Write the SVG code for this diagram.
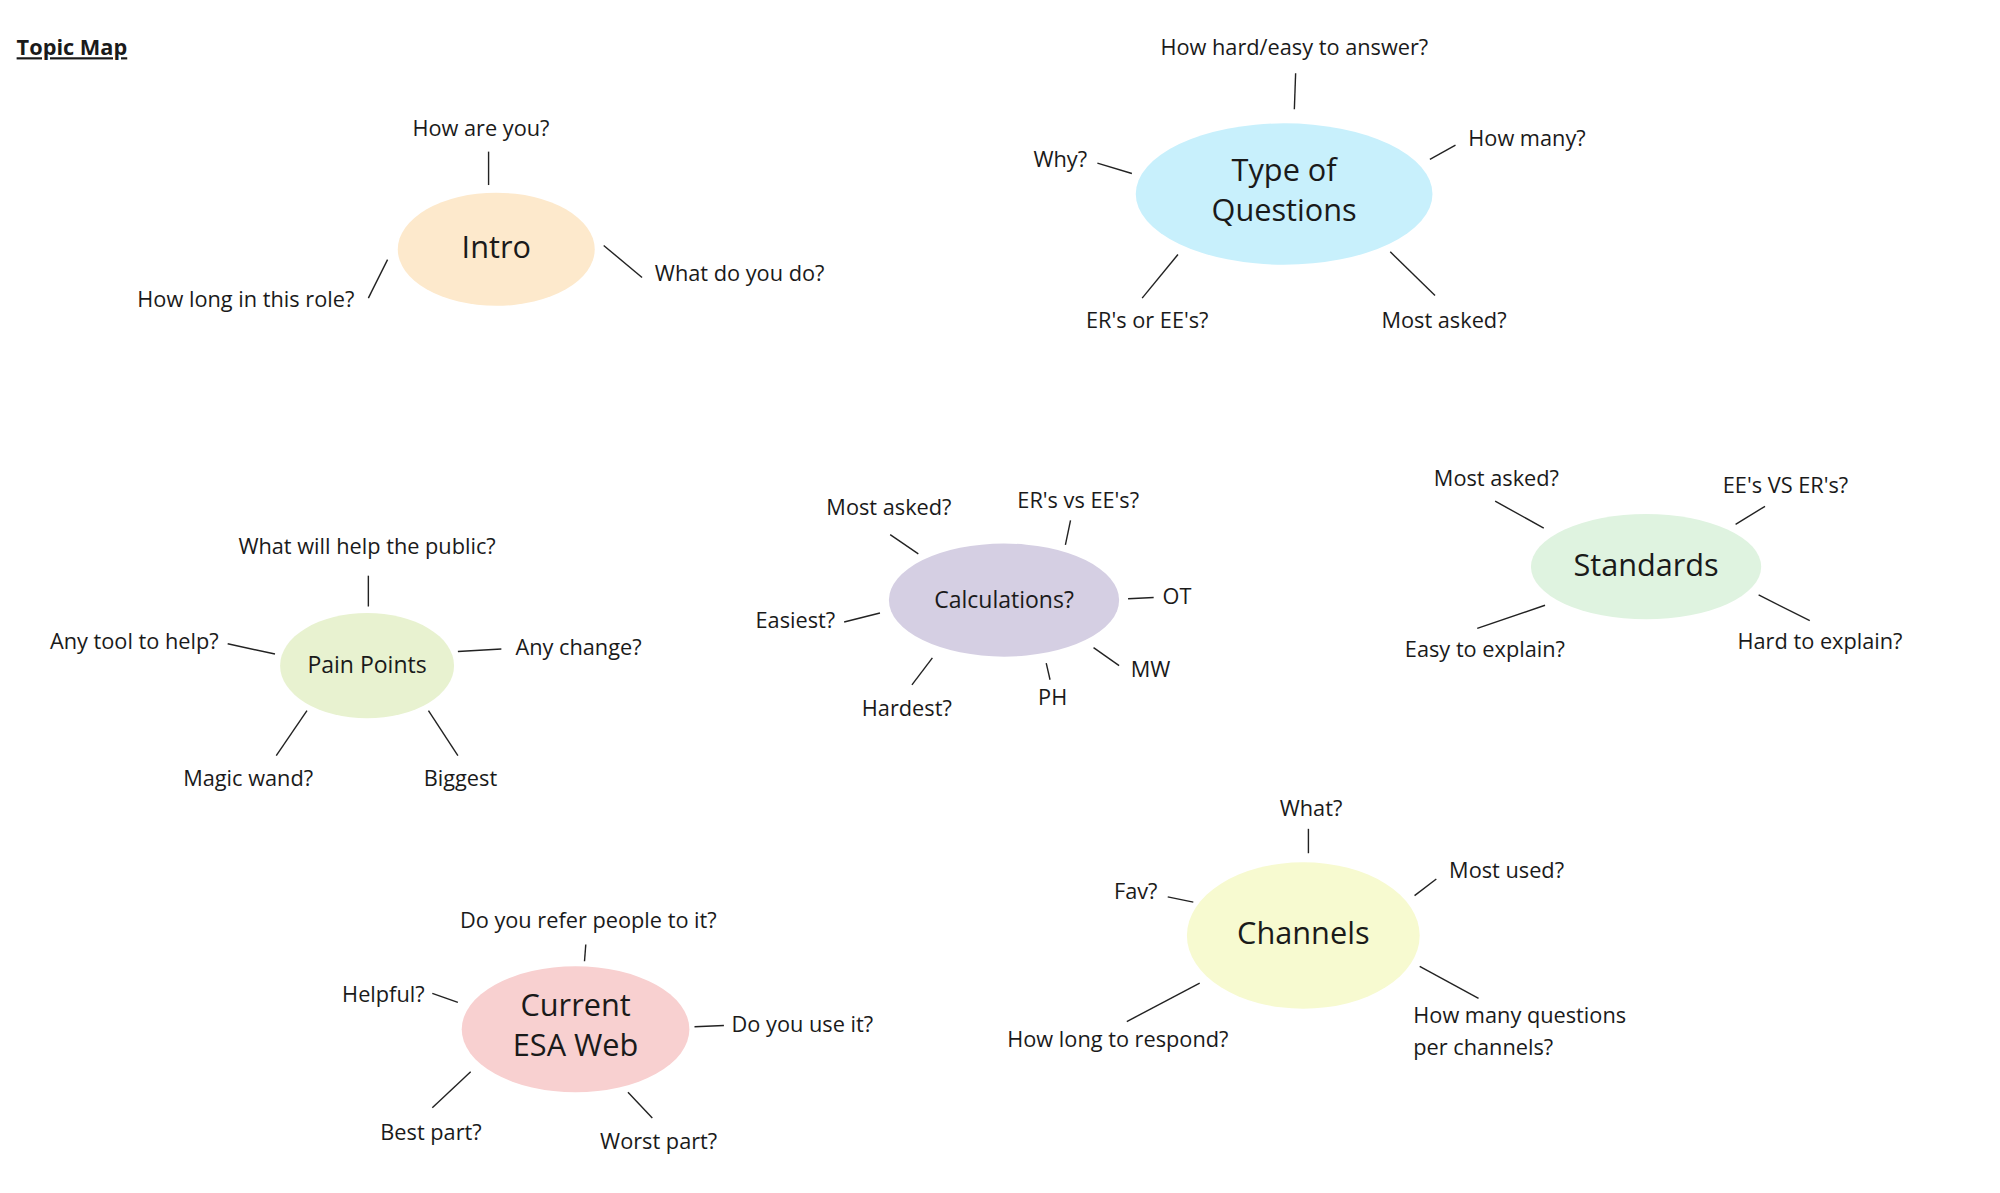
<svg xmlns="http://www.w3.org/2000/svg" width="2000" height="1193" viewBox="0 0 2000 1193">
<style>
text{font-family:"Open Sans","Liberation Sans",sans-serif;fill:#1a1a1a}
.l{font-size:17px}
.m{text-anchor:middle}
.e{text-anchor:end}
.n{font-size:24px;text-anchor:middle}
.s{font-size:18px;text-anchor:middle}
#conn line{stroke:#222;stroke-width:1.1}
</style>
<rect width="2000" height="1193" fill="#fff"/>
<g transform="scale(1.279,1.285)">
<text x="13" y="43" style="font-size:17px;font-weight:bold;text-decoration:underline">Topic Map</text>
<g id="conn">
<line x1="382" y1="118" x2="382" y2="144"/><line x1="472" y1="191" x2="502" y2="216"/><line x1="303" y1="202" x2="288" y2="232"/>
<line x1="1013" y1="57" x2="1012" y2="85"/><line x1="858" y1="127" x2="885" y2="135"/><line x1="1118" y1="124" x2="1138" y2="113"/><line x1="921" y1="198" x2="893" y2="232"/><line x1="1087" y1="196" x2="1122" y2="230"/>
<line x1="696" y1="416" x2="718" y2="431"/><line x1="837" y1="405" x2="833" y2="424"/><line x1="882" y1="466" x2="902" y2="465"/><line x1="660" y1="484" x2="688" y2="477"/><line x1="729" y1="512" x2="713" y2="533"/><line x1="818" y1="516" x2="821" y2="529"/><line x1="855" y1="504" x2="875" y2="518"/>
<line x1="1169" y1="390" x2="1207" y2="411"/><line x1="1380" y1="394" x2="1357" y2="408"/><line x1="1155" y1="489" x2="1208" y2="471"/><line x1="1375" y1="463" x2="1415" y2="483"/>
<line x1="288" y1="448" x2="288" y2="472"/><line x1="358" y1="507" x2="392" y2="505"/><line x1="178" y1="501" x2="215" y2="509"/><line x1="240" y1="553" x2="216" y2="588"/><line x1="335" y1="553" x2="358" y2="588"/>
<line x1="1023" y1="645" x2="1023" y2="664"/><line x1="913" y1="698" x2="933" y2="702"/><line x1="1106" y1="697" x2="1123" y2="684"/><line x1="938" y1="765" x2="881" y2="795"/><line x1="1110" y1="752" x2="1156" y2="777"/>
<line x1="458" y1="735" x2="457" y2="748"/><line x1="338" y1="773" x2="358" y2="780"/><line x1="543" y1="799" x2="566" y2="798"/><line x1="368" y1="834" x2="338" y2="862"/><line x1="491" y1="850" x2="510" y2="870"/>
</g>
<g id="intro"><ellipse cx="388" cy="194" rx="77" ry="44" fill="#fde9cc"/><text class="n" x="388" y="201">Intro</text>
<text class="l m" x="376" y="106">How are you?</text><text class="l" x="512" y="219">What do you do?</text><text class="l e" x="277" y="239">How long in this role?</text></g>
<g id="types"><ellipse cx="1004" cy="151" rx="116" ry="55" fill="#c8f0fc"/><text class="n" x="1004" y="141">Type of</text><text class="n" x="1004" y="172">Questions</text>
<text class="l m" x="1012" y="43">How hard/easy to answer?</text><text class="l e" x="850" y="130">Why?</text><text class="l" x="1148" y="114">How many?</text><text class="l m" x="897" y="255">ER's or EE's?</text><text class="l m" x="1129" y="255">Most asked?</text></g>
<g id="calc"><ellipse cx="785" cy="467" rx="90" ry="44" fill="#d5cfe3"/><text class="s" x="785" y="473">Calculations?</text>
<text class="l m" x="695" y="401">Most asked?</text><text class="l m" x="843" y="395">ER's vs EE's?</text><text class="l" x="909" y="470">OT</text><text class="l e" x="653" y="489">Easiest?</text><text class="l m" x="709" y="557">Hardest?</text><text class="l m" x="823" y="549">PH</text><text class="l" x="884" y="527">MW</text></g>
<g id="standards"><ellipse cx="1287" cy="441" rx="90" ry="41" fill="#dff3e0"/><text class="n" x="1287" y="448">Standards</text>
<text class="l m" x="1170" y="378">Most asked?</text><text class="l m" x="1396" y="384">EE's VS ER's?</text><text class="l m" x="1161" y="511">Easy to explain?</text><text class="l m" x="1423" y="505">Hard to explain?</text></g>
<g id="pain"><ellipse cx="287" cy="518" rx="68" ry="41" fill="#e8f2d0"/><text class="s" x="287" y="524">Pain Points</text>
<text class="l m" x="287" y="431">What will help the public?</text><text class="l" x="403" y="510">Any change?</text><text class="l e" x="171" y="505">Any tool to help?</text><text class="l m" x="194" y="612">Magic wand?</text><text class="l m" x="360" y="612">Biggest</text></g>
<g id="channels"><ellipse cx="1019" cy="728" rx="91" ry="57" fill="#f7fad0"/><text class="n" x="1019" y="735">Channels</text>
<text class="l m" x="1025" y="635">What?</text><text class="l e" x="905" y="700">Fav?</text><text class="l" x="1133" y="683">Most used?</text><text class="l m" x="874" y="815">How long to respond?</text><text class="l" x="1105" y="796">How many questions</text><text class="l" x="1105" y="821">per channels?</text></g>
<g id="esa"><ellipse cx="450" cy="801" rx="89" ry="49" fill="#f8d0d0"/><text class="n" x="450" y="791">Current</text><text class="n" x="450" y="822">ESA Web</text>
<text class="l m" x="460" y="722">Do you refer people to it?</text><text class="l e" x="332" y="780">Helpful?</text><text class="l" x="572" y="803">Do you use it?</text><text class="l m" x="337" y="887">Best part?</text><text class="l m" x="515" y="894">Worst part?</text></g>
</g>
</svg>
